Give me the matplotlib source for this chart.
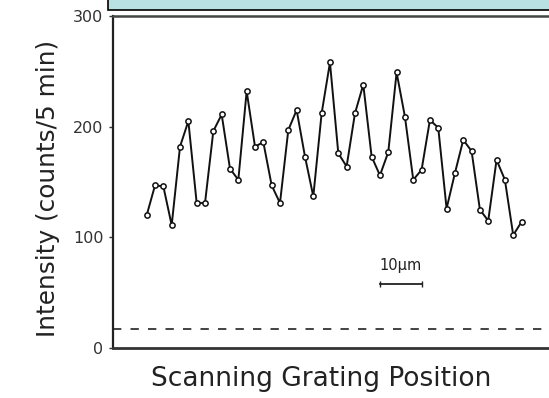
import numpy as np
import matplotlib
matplotlib.use("Agg")
import matplotlib.pyplot as plt
from matplotlib.patches import Rectangle

# Data
intensity = [120, 147, 146, 111, 182, 205, 131, 131, 196, 211,
             162, 152, 232, 182, 186, 147, 131, 197, 215, 173,
             137, 212, 258, 176, 164, 212, 238, 173, 156, 177,
             249, 209, 152, 161, 206, 199, 126, 158, 188, 178,
             125, 115, 170, 152, 102, 114]
step_um = 2.0
position = np.arange(len(intensity)) * step_um
background_level = 17.5
y_ticks = [0, 100, 200, 300]
y_tick_labels = ["0", "100", "200", "300"]
scale_bar_um = 10

W, H = 549, 398
fig = plt.figure(figsize=(W / 100, H / 100), dpi=100)
fig.patch.set_facecolor("white")

# axes placed in pixel coordinates (cropped on the right like the reference)
left_px, right_px, top_px, bot_px = 113, 562, 16, 348
ax = fig.add_axes([left_px / W, 1 - bot_px / H, (right_px - left_px) / W, (bot_px - top_px) / H])
px_per_um = 8.33 / step_um
x0 = -(146.7 - left_px) / px_per_um
x1 = x0 + (right_px - left_px) / px_per_um
ax.set_xlim(x0, x1)
ax.set_ylim(0, 300)

ax.plot(position, intensity, color="#111111", lw=1.4, marker="o", ms=3.8,
        mfc="white", mec="#111111", mew=1.1, zorder=3)
ax.axhline(background_level, color="#222222", lw=1.2, dashes=(5, 5.5))

# scale bar
sb_x0 = 56.0
ax.plot([sb_x0, sb_x0 + scale_bar_um], [58, 58], color="#222222", lw=1.3,
        marker="|", ms=4, mew=1.0)
ax.text(sb_x0 + scale_bar_um / 2, 68, "10\u00b5m", ha="center", va="bottom",
        fontsize=10.5, color="#222222")

ax.set_yticks(y_ticks)
ax.set_yticklabels(y_tick_labels)
ax.set_xticks([])
ax.tick_params(axis="y", direction="out", length=3, width=1, labelsize=11.5,
               colors="#333333", pad=4)
ax.spines["right"].set_visible(False)
ax.spines["left"].set_linewidth(1.6)
ax.spines["bottom"].set_linewidth(2.0)
ax.spines["top"].set_linewidth(1.8)
ax.spines["top"].set_color("#444444")
ax.spines["left"].set_color("#222222")
ax.spines["bottom"].set_color("#333333")

fig.text(48 / W, 1 - 188 / H, "Intensity (counts/5 min)", rotation=90,
         ha="center", va="center", fontsize=17.8, color="#222222")
fig.text(321 / W, 1 - 379 / H, "Scanning Grating Position", ha="center",
         va="center", fontsize=19, color="#222222")

# light blue title box at the top (cropped)
box = Rectangle((108 / W, 1 - 10 / H), (W + 20 - 108) / W, 30 / H,
                transform=fig.transFigure, facecolor="#b9e1e4",
                edgecolor="black", lw=1.2, zorder=5)
fig.patches.append(box)

fig.savefig("out.png", dpi=100)
